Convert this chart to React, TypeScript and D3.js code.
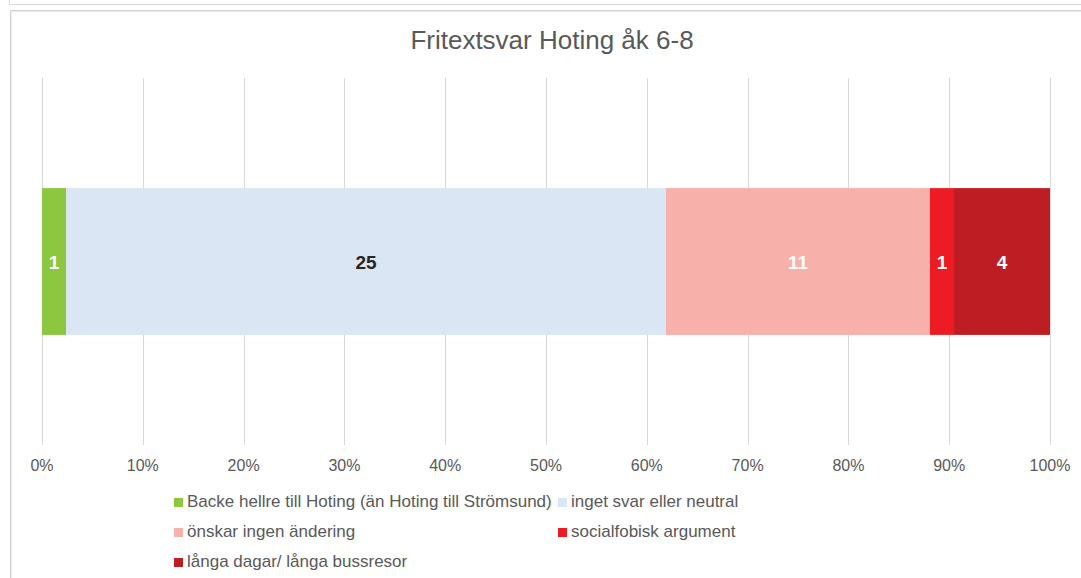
import React from "react";
import * as d3 from "d3";

const categories = ["Backe hellre till Hoting (än Hoting till Strömsund)", "inget svar eller neutral", "önskar ingen ändering", "socialfobisk argument", "långa dagar/ långa bussresor"];
const values = [1, 25, 11, 1, 4];
const colors = ["#8dc63f", "#dae6f3", "#f7b0aa", "#ed1c24", "#be1e23"];
const labelColors = ["#ffffff", "#262626", "#ffffff", "#ffffff", "#ffffff"];
const ticks = [0, 0.1, 0.2, 0.3, 0.4, 0.5, 0.6, 0.7, 0.8, 0.9, 1];
const title = "Fritextsvar Hoting åk 6-8";

const W = 1081, H = 578;
const FONT = "'Liberation Sans', Arial, sans-serif";

export default function App() {
  const x = d3.scaleLinear().domain([0, 1]).range([42, 1050]);
  const y = d3.scaleBand().domain(["a"]).range([78, 445]).paddingInner(0.6).paddingOuter(0.3);
  const total = d3.sum(values);
  const cum = d3.cumsum(values);
  const segs = values.map((v, i) => ({ v, i, x0: (cum[i] - v) / total, x1: cum[i] / total }));
  const by = y("a")!;
  const bh = y.bandwidth();
  const fmt = d3.format(".0%");

  const legendPos = [
    { mx: 174, y: 507 },
    { mx: 558, y: 507 },
    { mx: 174, y: 537 },
    { mx: 558, y: 537 },
    { mx: 174, y: 567 },
  ];

  return (
    <div style={{ position: "fixed", left: 0, top: 0 }}>
      <svg width={W} height={H} style={{ display: "block", background: "#fff" }}>
        {/* frames */}
        <line x1={9.5} y1={0} x2={9.5} y2={4} stroke="#d9d9d9" />
        <line x1={9.5} y1={4.5} x2={W} y2={4.5} stroke="#d9d9d9" />
        <line x1={10.5} y1={10.5} x2={W} y2={10.5} stroke="#d0d0d0" />
        <line x1={11.5} y1={11.5} x2={W} y2={11.5} stroke="#ececec" />
        <line x1={10.5} y1={10.5} x2={10.5} y2={H} stroke="#d0d0d0" />
        <line x1={11.5} y1={11.5} x2={11.5} y2={H} stroke="#ececec" />

        <text x={552} y={49} textAnchor="middle" fontFamily={FONT} fontSize={26} fill="#595959">{title}</text>

        {ticks.map((t) => (
          <line key={t} x1={Math.round(x(t)) + 0.5} x2={Math.round(x(t)) + 0.5} y1={78} y2={445} stroke="#d9d9d9" />
        ))}
        {ticks.map((t) => (
          <text key={"l" + t} x={x(t)} y={471} textAnchor="middle" fontFamily={FONT} fontSize={16} fill="#595959">{fmt(t)}</text>
        ))}

        {segs.map((s) => (
          <rect key={s.i} x={x(s.x0)} y={by} width={x(s.x1) - x(s.x0)} height={bh} fill={colors[s.i]} />
        ))}
        {segs.map((s) => (
          <text key={"v" + s.i} x={(x(s.x0) + x(s.x1)) / 2} y={269} textAnchor="middle" fontFamily={FONT} fontSize={19} fontWeight="bold" fill={labelColors[s.i]}>{s.v}</text>
        ))}

        {categories.map((c, i) => (
          <g key={c}>
            <rect x={legendPos[i].mx} y={legendPos[i].y - 9} width={9} height={9} fill={colors[i]} />
            <text x={legendPos[i].mx + 13} y={legendPos[i].y} fontFamily={FONT} fontSize={17} fill="#595959">{c}</text>
          </g>
        ))}
      </svg>
    </div>
  );
}
